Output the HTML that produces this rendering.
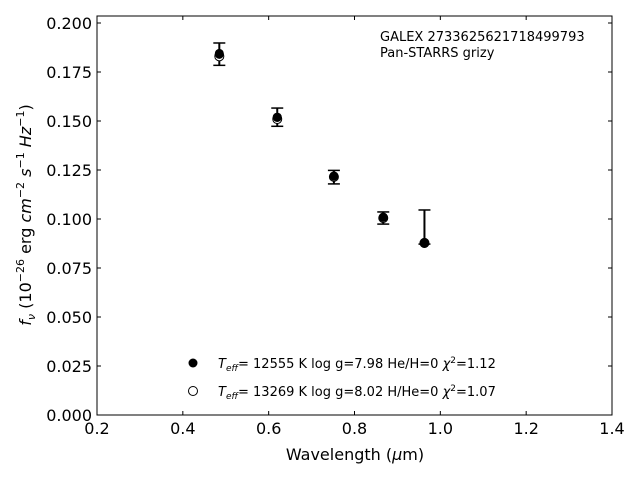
<!DOCTYPE html>
<html><head><meta charset="utf-8"><style>
body{margin:0;background:#fff;font-family:"Liberation Sans","DejaVu Sans",sans-serif;}
svg text{font-family:"DejaVu Sans","Liberation Sans",sans-serif;}
</style></head><body>
<svg id="c" width="640" height="480" xmlns="http://www.w3.org/2000/svg">
<rect x="97" y="16" width="515" height="399" fill="none" stroke="#000" stroke-width="1"/>
<g id="ticks"></g>
<g id="marks"></g>
<text x="380" y="41" font-size="13">GALEX 2733625621718499793</text>
<text x="380" y="57" font-size="13">Pan-STARRS grizy</text>
<text x="355" y="460" font-size="16" text-anchor="middle">Wavelength (<tspan font-style="italic">μ</tspan>m)</text>
<text transform="translate(31,215) rotate(-90)" font-size="16" text-anchor="middle"><tspan font-style="italic">f<tspan font-size="11" dy="4">ν</tspan></tspan><tspan dy="-4"> (10</tspan><tspan font-size="11" dy="-7">−26</tspan><tspan dy="7"> erg </tspan><tspan font-style="italic">cm</tspan><tspan font-size="11" dy="-7">−2</tspan><tspan dy="7"> </tspan><tspan font-style="italic">s</tspan><tspan font-size="11" dy="-7">−1</tspan><tspan dy="7"> </tspan><tspan font-style="italic">Hz</tspan><tspan font-size="11" dy="-7">−1</tspan><tspan dy="7">)</tspan></text>
<g>
<circle cx="193" cy="363" r="4.5" fill="#000"/>
<text x="218" y="368" font-size="13"><tspan font-style="italic">T</tspan><tspan font-style="italic" font-size="9" dy="3">eff</tspan><tspan dy="-3">= 12555 K  log g=7.98  He/H=0  </tspan><tspan font-style="italic">χ</tspan><tspan font-size="9" dy="-5">2</tspan><tspan dy="5">=1.12</tspan></text>
<circle cx="193" cy="391" r="4.5" fill="#fff" stroke="#000" stroke-width="1"/>
<text x="218" y="396" font-size="13"><tspan font-style="italic">T</tspan><tspan font-style="italic" font-size="9" dy="3">eff</tspan><tspan dy="-3">= 13269 K  log g=8.02  H/He=0  </tspan><tspan font-style="italic">χ</tspan><tspan font-size="9" dy="-5">2</tspan><tspan dy="5">=1.07</tspan></text>
</g>
</svg>
<script>
const wavelengths=[0.485,0.620,0.752,0.867,0.963];
const fluxObs=[0.1840,0.1518,0.1218,0.1008,0.0875];
const errLow=[0.0056,0.0045,0.0039,0.0034,0.0003];
const errHigh=[0.0058,0.0048,0.0030,0.0028,0.0171];
const model1=[0.1845,0.1520,0.1220,0.1010,0.0880];
const model2=[0.1830,0.1510,0.1215,0.1005,0.0878];
const xTicks=["0.2","0.4","0.6","0.8","1.0","1.2","1.4"];
const yTicks=["0.000","0.025","0.050","0.075","0.100","0.125","0.150","0.175","0.200"];
const NS="http://www.w3.org/2000/svg";
const X=v=>97+(v-0.2)/1.2*515;
const Y=v=>415-v*1960;
function mk(t,a,p){const e=document.createElementNS(NS,t);for(const k in a)e.setAttribute(k,a[k]);p.appendChild(e);return e;}
const tg=document.getElementById('ticks'),mg=document.getElementById('marks');
xTicks.forEach(s=>{const x=X(parseFloat(s));
const l=mk('line',{x1:x,x2:x,y1:415,y2:411,stroke:'#000'},tg);


const l2=mk('line',{x1:x,x2:x,y1:16,y2:20,stroke:'#000'},tg);


const t=mk('text',{x:x,y:434,'font-size':16,'text-anchor':'middle'},tg);t.textContent=s;

});
yTicks.forEach(s=>{const y=Y(parseFloat(s));
const l=mk('line',{x1:97,x2:101,y1:y,y2:y,stroke:'#000'},tg);


const l2=mk('line',{x1:608,x2:612,y1:y,y2:y,stroke:'#000'},tg);


const t=mk('text',{x:92,y:y+6,'font-size':16,'text-anchor':'end'},tg);t.textContent=s;

});
wavelengths.forEach((w,i)=>{const x=X(w);
const g=mk('g',{},mg);


const yt=Y(fluxObs[i]+errHigh[i]),yb=Y(fluxObs[i]-errLow[i]);
mk('line',{x1:x,x2:x,y1:yt,y2:yb,stroke:'#000','stroke-width':2},g);
mk('line',{x1:x-6,x2:x+6,y1:yt,y2:yt,stroke:'#000','stroke-width':1.5},g);
mk('line',{x1:x-6,x2:x+6,y1:yb,y2:yb,stroke:'#000','stroke-width':1.5},g);
const o=mk('circle',{cx:x,cy:Y(model2[i]),r:4.5,fill:'#fff',stroke:'#000'},mg);


const m=mk('circle',{cx:x,cy:Y(model1[i]),r:4.5,fill:'#000'},mg);


const p=mk('circle',{cx:x,cy:Y(fluxObs[i]),r:4.5,fill:'#000'},mg);


});
</script>
</body></html>
